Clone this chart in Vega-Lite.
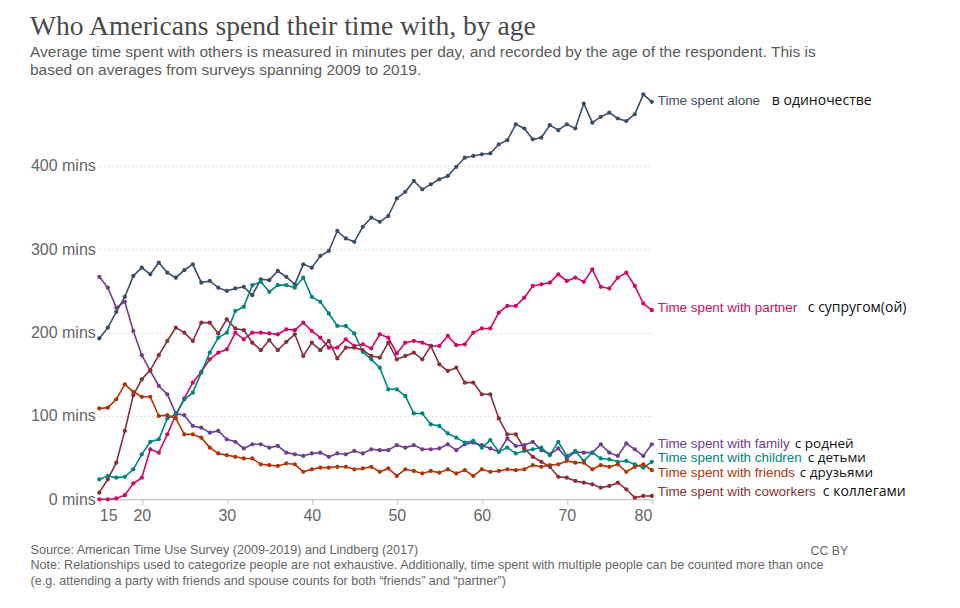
{
  "$schema": "https://vega.github.io/schema/vega-lite/v6.json",
  "width": 552.5,
  "height": 408.3,
  "autosize": {"type": "none"},
  "padding": {"left": 99.3, "top": 91, "right": 308.2, "bottom": 108.7},
  "background": "#ffffff",
  "config": {"view": {"stroke": null}},
  "title": {
    "text": "Who Americans spend their time with, by age",
    "subtitle": ["Average time spent with others is measured in minutes per day, and recorded by the age of the respondent. This is", "based on averages from surveys spanning 2009 to 2019."],
    "anchor": "start",
    "frame": "group",
    "dx": -69.3,
    "offset": 13,
    "font": "Liberation Serif",
    "fontSize": 27.6,
    "fontWeight": "normal",
    "color": "#4a4a4a",
    "subtitleFont": "Liberation Sans",
    "subtitleFontSize": 15.5,
    "subtitleColor": "#5b5b5b",
    "subtitleLineHeight": 18,
    "subtitlePadding": 4
  },
  "datasets": {
    "labels": [
      {"series": "alone", "age": 80, "at": 478, "label": "Time spent alone", "ru": "в одиночестве"},
      {"series": "partner", "age": 80, "at": 229, "label": "Time spent with partner", "ru": "с супругом(ой)"},
      {"series": "family", "age": 80, "at": 66, "label": "Time spent with family", "ru": "с родней"},
      {"series": "children", "age": 80, "at": 49, "label": "Time spent with children", "ru": "с детьми"},
      {"series": "friends", "age": 80, "at": 31, "label": "Time spent with friends", "ru": "с друзьями"},
      {"series": "coworkers", "age": 80, "at": 9, "label": "Time spent with coworkers", "ru": "с коллегами"}
    ]
  },
  "data": {
    "values": [
      {"age": 15, "alone": 193, "partner": 0, "family": 267, "children": 24, "friends": 109, "coworkers": 8},
      {"age": 16, "alone": 206, "partner": 0, "family": 254, "children": 28, "friends": 110, "coworkers": 24},
      {"age": 17, "alone": 225, "partner": 1, "family": 230, "children": 26, "friends": 120, "coworkers": 44},
      {"age": 18, "alone": 243, "partner": 5, "family": 237, "children": 27, "friends": 138, "coworkers": 82},
      {"age": 19, "alone": 268, "partner": 19, "family": 202, "children": 36, "friends": 129, "coworkers": 125},
      {"age": 20, "alone": 278, "partner": 26, "family": 173, "children": 54, "friends": 123, "coworkers": 144},
      {"age": 21, "alone": 270, "partner": 60, "family": 154, "children": 69, "friends": 123, "coworkers": 155},
      {"age": 22, "alone": 284, "partner": 56, "family": 136, "children": 72, "friends": 100, "coworkers": 173},
      {"age": 23, "alone": 272, "partner": 78, "family": 126, "children": 97, "friends": 101, "coworkers": 190},
      {"age": 24, "alone": 266, "partner": 101, "family": 103, "children": 102, "friends": 97, "coworkers": 206},
      {"age": 25, "alone": 275, "partner": 121, "family": 101, "children": 120, "friends": 78, "coworkers": 200},
      {"age": 26, "alone": 282, "partner": 140, "family": 88, "children": 128, "friends": 78, "coworkers": 190},
      {"age": 27, "alone": 260, "partner": 153, "family": 86, "children": 152, "friends": 74, "coworkers": 212},
      {"age": 28, "alone": 262, "partner": 168, "family": 80, "children": 176, "friends": 62, "coworkers": 212},
      {"age": 29, "alone": 254, "partner": 176, "family": 82, "children": 194, "friends": 55, "coworkers": 199},
      {"age": 30, "alone": 250, "partner": 180, "family": 72, "children": 200, "friends": 53, "coworkers": 216},
      {"age": 31, "alone": 253, "partner": 200, "family": 69, "children": 226, "friends": 51, "coworkers": 205},
      {"age": 32, "alone": 255, "partner": 192, "family": 61, "children": 231, "friends": 49, "coworkers": 203},
      {"age": 33, "alone": 245, "partner": 200, "family": 66, "children": 257, "friends": 49, "coworkers": 188},
      {"age": 34, "alone": 264, "partner": 200, "family": 66, "children": 261, "friends": 42, "coworkers": 179},
      {"age": 35, "alone": 263, "partner": 199, "family": 62, "children": 249, "friends": 41, "coworkers": 191},
      {"age": 36, "alone": 274, "partner": 198, "family": 64, "children": 257, "friends": 40, "coworkers": 179},
      {"age": 37, "alone": 267, "partner": 204, "family": 56, "children": 257, "friends": 43, "coworkers": 189},
      {"age": 38, "alone": 258, "partner": 203, "family": 54, "children": 254, "friends": 42, "coworkers": 198},
      {"age": 39, "alone": 282, "partner": 212, "family": 52, "children": 266, "friends": 33, "coworkers": 172},
      {"age": 40, "alone": 278, "partner": 202, "family": 55, "children": 243, "friends": 36, "coworkers": 188},
      {"age": 41, "alone": 292, "partner": 194, "family": 56, "children": 237, "friends": 38, "coworkers": 179},
      {"age": 42, "alone": 298, "partner": 182, "family": 51, "children": 223, "friends": 38, "coworkers": 190},
      {"age": 43, "alone": 322, "partner": 182, "family": 55, "children": 208, "friends": 39, "coworkers": 169},
      {"age": 44, "alone": 313, "partner": 192, "family": 54, "children": 208, "friends": 39, "coworkers": 182},
      {"age": 45, "alone": 309, "partner": 184, "family": 58, "children": 199, "friends": 36, "coworkers": 182},
      {"age": 46, "alone": 327, "partner": 186, "family": 55, "children": 177, "friends": 37, "coworkers": 179},
      {"age": 47, "alone": 338, "partner": 181, "family": 60, "children": 168, "friends": 39, "coworkers": 172},
      {"age": 48, "alone": 333, "partner": 198, "family": 59, "children": 158, "friends": 33, "coworkers": 170},
      {"age": 49, "alone": 340, "partner": 194, "family": 59, "children": 132, "friends": 37, "coworkers": 188},
      {"age": 50, "alone": 361, "partner": 175, "family": 65, "children": 132, "friends": 28, "coworkers": 168},
      {"age": 51, "alone": 369, "partner": 188, "family": 62, "children": 124, "friends": 36, "coworkers": 172},
      {"age": 52, "alone": 382, "partner": 190, "family": 65, "children": 103, "friends": 34, "coworkers": 176},
      {"age": 53, "alone": 372, "partner": 188, "family": 60, "children": 103, "friends": 31, "coworkers": 168},
      {"age": 54, "alone": 378, "partner": 184, "family": 60, "children": 90, "friends": 34, "coworkers": 184},
      {"age": 55, "alone": 384, "partner": 184, "family": 61, "children": 88, "friends": 32, "coworkers": 162},
      {"age": 56, "alone": 388, "partner": 196, "family": 66, "children": 79, "friends": 36, "coworkers": 154},
      {"age": 57, "alone": 399, "partner": 185, "family": 59, "children": 74, "friends": 31, "coworkers": 158},
      {"age": 58, "alone": 410, "partner": 186, "family": 66, "children": 68, "friends": 35, "coworkers": 140},
      {"age": 59, "alone": 412, "partner": 200, "family": 68, "children": 70, "friends": 28, "coworkers": 140},
      {"age": 60, "alone": 414, "partner": 205, "family": 65, "children": 62, "friends": 36, "coworkers": 126},
      {"age": 61, "alone": 415, "partner": 205, "family": 61, "children": 71, "friends": 33, "coworkers": 126},
      {"age": 62, "alone": 426, "partner": 224, "family": 57, "children": 57, "friends": 34, "coworkers": 97},
      {"age": 63, "alone": 431, "partner": 232, "family": 73, "children": 62, "friends": 36, "coworkers": 78},
      {"age": 64, "alone": 450, "partner": 232, "family": 64, "children": 55, "friends": 35, "coworkers": 78},
      {"age": 65, "alone": 445, "partner": 242, "family": 65, "children": 58, "friends": 36, "coworkers": 61},
      {"age": 66, "alone": 432, "partner": 256, "family": 69, "children": 60, "friends": 41, "coworkers": 51},
      {"age": 67, "alone": 434, "partner": 258, "family": 59, "children": 62, "friends": 39, "coworkers": 45},
      {"age": 68, "alone": 449, "partner": 260, "family": 54, "children": 53, "friends": 41, "coworkers": 39},
      {"age": 69, "alone": 443, "partner": 270, "family": 61, "children": 69, "friends": 42, "coworkers": 27},
      {"age": 70, "alone": 450, "partner": 262, "family": 49, "children": 52, "friends": 46, "coworkers": 26},
      {"age": 71, "alone": 445, "partner": 266, "family": 57, "children": 58, "friends": 44, "coworkers": 22},
      {"age": 72, "alone": 475, "partner": 261, "family": 56, "children": 46, "friends": 44, "coworkers": 20},
      {"age": 73, "alone": 452, "partner": 276, "family": 56, "children": 56, "friends": 36, "coworkers": 18},
      {"age": 74, "alone": 459, "partner": 255, "family": 66, "children": 49, "friends": 41, "coworkers": 14},
      {"age": 75, "alone": 464, "partner": 253, "family": 56, "children": 48, "friends": 39, "coworkers": 16},
      {"age": 76, "alone": 457, "partner": 266, "family": 52, "children": 45, "friends": 42, "coworkers": 20},
      {"age": 77, "alone": 454, "partner": 272, "family": 67, "children": 46, "friends": 33, "coworkers": 12},
      {"age": 78, "alone": 462, "partner": 256, "family": 60, "children": 42, "friends": 39, "coworkers": 2},
      {"age": 79, "alone": 486, "partner": 235, "family": 52, "children": 38, "friends": 42, "coworkers": 4},
      {"age": 80, "alone": 477, "partner": 227, "family": 66, "children": 45, "friends": 35, "coworkers": 4}
    ]
  },
  "layer": [
    {
      "transform": [{"fold": ["alone", "partner", "family", "children", "friends", "coworkers"], "as": ["series", "mins"]}],
      "mark": {"type": "line", "strokeWidth": 1.6, "interpolate": "linear"},
      "encoding": {
        "x": {
          "field": "age", "type": "quantitative",
          "scale": {"domain": [15, 80], "nice": false, "zero": false},
          "axis": {
            "values": [15, 20, 30, 40, 50, 60, 70, 80],
            "labelFlush": true,
            "grid": false,
            "domainColor": "#bbbbbb",
            "tickColor": "#bbbbbb",
            "tickSize": 5,
            "labelFont": "Liberation Sans",
            "labelFontSize": 16,
            "labelColor": "#666666",
            "labelPadding": 3,
            "title": ["Source: American Time Use Survey (2009-2019) and Lindberg (2017)", "Note: Relationships used to categorize people are not exhaustive. Additionally, time spent with multiple people can be counted more than once", "(e.g. attending a party with friends and spouse counts for both “friends” and “partner”)"],
            "titleFont": "Liberation Sans",
            "titleFontSize": 12.6,
            "titleFontWeight": "normal",
            "titleColor": "#666666",
            "titleAnchor": "start",
            "titleAlign": "left",
            "titleBaseline": "top",
            "titleX": -69.3,
            "titleY": 44,
            "titleLineHeight": 15.5
          }
        },
        "y": {
          "field": "mins", "type": "quantitative",
          "scale": {"domain": [0, 490], "nice": false},
          "axis": {
            "values": [0, 100, 200, 300, 400],
            "labelExpr": "datum.value + ' mins'",
            "domain": false,
            "ticks": false,
            "grid": true,
            "gridColor": "#dddddd",
            "gridDash": [2, 2],
            "labelFont": "Liberation Sans",
            "labelFontSize": 16,
            "labelColor": "#666666",
            "labelPadding": 4,
            "title": "CC BY",
            "titleAngle": 0,
            "titleFont": "Liberation Sans",
            "titleFontSize": 12.3,
            "titleFontWeight": "normal",
            "titleColor": "#666666",
            "titleAlign": "left",
            "titleBaseline": "middle",
            "titleX": 710.7,
            "titleY": 459
          }
        },
        "color": {
          "field": "series", "type": "nominal",
          "scale": {"domain": ["alone", "partner", "family", "children", "friends", "coworkers"], "range": ["#3c4e66", "#cf0a66", "#6d3e91", "#00847e", "#b13507", "#883039"]},
          "legend": null
        }
      }
    },
    {
      "transform": [{"fold": ["alone", "partner", "family", "children", "friends", "coworkers"], "as": ["series", "mins"]}],
      "mark": {"type": "circle", "size": 18, "opacity": 1},
      "encoding": {
        "x": {"field": "age", "type": "quantitative"},
        "y": {"field": "mins", "type": "quantitative"},
        "color": {"field": "series", "type": "nominal", "legend": null}
      }
    },
    {
      "data": {"name": "labels"},
      "mark": {"type": "text", "align": "left", "baseline": "middle", "dx": 6, "font": "Liberation Sans", "fontSize": 13.4},
      "encoding": {
        "x": {"field": "age", "type": "quantitative"},
        "y": {"field": "at", "type": "quantitative"},
        "text": {"field": "label"},
        "color": {"field": "series", "type": "nominal", "legend": null}
      }
    },
    {
      "data": {"name": "labels"},
      "transform": [{"filter": "datum.series === 'alone'"}],
      "mark": {"type": "text", "align": "left", "baseline": "middle", "dx": 120, "font": "Open Sans", "fontSize": 14, "color": "#111111"},
      "encoding": {"x": {"field": "age", "type": "quantitative"}, "y": {"field": "at", "type": "quantitative"}, "text": {"field": "ru"}}
    },
    {
      "data": {"name": "labels"},
      "transform": [{"filter": "datum.series === 'partner'"}],
      "mark": {"type": "text", "align": "left", "baseline": "middle", "dx": 156, "font": "Open Sans", "fontSize": 14, "color": "#111111"},
      "encoding": {"x": {"field": "age", "type": "quantitative"}, "y": {"field": "at", "type": "quantitative"}, "text": {"field": "ru"}}
    },
    {
      "data": {"name": "labels"},
      "transform": [{"filter": "datum.series === 'family'"}],
      "mark": {"type": "text", "align": "left", "baseline": "middle", "dx": 143, "font": "Open Sans", "fontSize": 13.5, "color": "#111111"},
      "encoding": {"x": {"field": "age", "type": "quantitative"}, "y": {"field": "at", "type": "quantitative"}, "text": {"field": "ru"}}
    },
    {
      "data": {"name": "labels"},
      "transform": [{"filter": "datum.series === 'children'"}],
      "mark": {"type": "text", "align": "left", "baseline": "middle", "dx": 156, "font": "Open Sans", "fontSize": 13.5, "color": "#111111"},
      "encoding": {"x": {"field": "age", "type": "quantitative"}, "y": {"field": "at", "type": "quantitative"}, "text": {"field": "ru"}}
    },
    {
      "data": {"name": "labels"},
      "transform": [{"filter": "datum.series === 'friends'"}],
      "mark": {"type": "text", "align": "left", "baseline": "middle", "dx": 148, "font": "Open Sans", "fontSize": 13.5, "color": "#111111"},
      "encoding": {"x": {"field": "age", "type": "quantitative"}, "y": {"field": "at", "type": "quantitative"}, "text": {"field": "ru"}}
    },
    {
      "data": {"name": "labels"},
      "transform": [{"filter": "datum.series === 'coworkers'"}],
      "mark": {"type": "text", "align": "left", "baseline": "middle", "dx": 171, "font": "Open Sans", "fontSize": 14, "color": "#111111"},
      "encoding": {"x": {"field": "age", "type": "quantitative"}, "y": {"field": "at", "type": "quantitative"}, "text": {"field": "ru"}}
    }
  ]
}
